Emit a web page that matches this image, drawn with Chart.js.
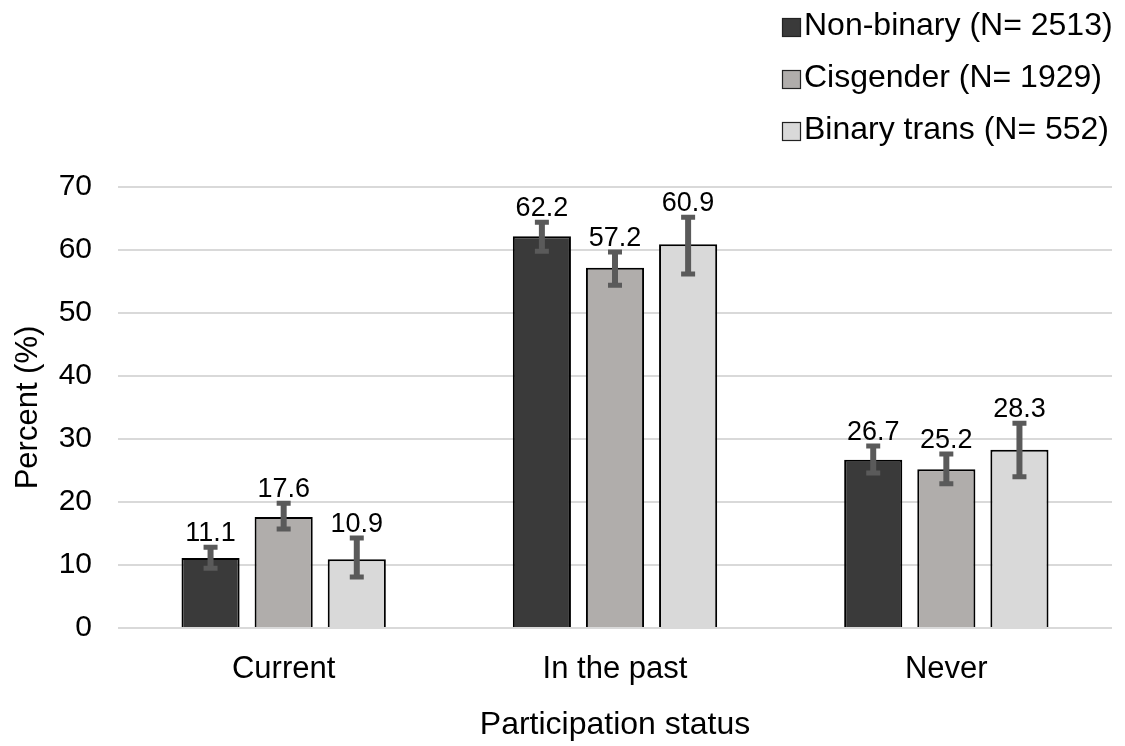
<!DOCTYPE html>
<html>
<head>
<meta charset="utf-8">
<script src="https://cdn.jsdelivr.net/npm/chart.js@4/dist/chart.umd.min.js"></script>
<style>
  body{margin:0;background:#fff;}
  #wrap{width:1125px;height:746px;}
</style>
</head>
<body>
<div id="wrap"><canvas id="myChart" width="1125" height="746"></canvas></div>
<script>
let categories=["Current","In the past","Never"];
let seriesNames=["Non-binary (N= 2513)","Cisgender (N= 1929)","Binary trans (N= 552)"];
let nonBinary=[11.1,62.2,26.7];
let cisgender=[17.6,57.2,25.2];
let binaryTrans=[10.9,60.9,28.3];
// error bar ends (low / high)
let nonBinaryLow=[9.5,59.8,24.6];
let nonBinaryHigh=[12.8,64.4,28.9];
let cisgenderLow=[15.7,54.4,22.9];
let cisgenderHigh=[19.8,59.7,27.6];
let binaryTransLow=[8.1,56.2,24.0];
let binaryTransHigh=[14.3,65.2,32.5];
let yTicks=[0,10,20,30,40,50,60,70];

let fillColors=["#3a3a3a","#b0adab","#d9d9d9"];
let errLows=[nonBinaryLow,cisgenderLow,binaryTransLow];
let errHighs=[nonBinaryHigh,cisgenderHigh,binaryTransHigh];
let FONT="'Liberation Sans', Arial, sans-serif";

// error bars + value labels
let errorBars={
    id:"errorBars",
    afterDatasetsDraw(chart){
        let ctx=chart.ctx;
        let y=chart.scales.y;
        chart.data.datasets.forEach((ds,i)=>{
            let meta=chart.getDatasetMeta(i);
            meta.data.forEach((bar,j)=>{
                let top=y.getPixelForValue(errHighs[i][j]);
                let bot=y.getPixelForValue(errLows[i][j]);
                ctx.save();
                ctx.strokeStyle="#5a5a5a";
                ctx.lineWidth=6;
                ctx.beginPath();
                ctx.moveTo(bar.x,top);ctx.lineTo(bar.x,bot);
                ctx.stroke();
                ctx.lineWidth=5;
                ctx.beginPath();
                ctx.moveTo(bar.x-7,top);ctx.lineTo(bar.x+7,top);
                ctx.moveTo(bar.x-7,bot);ctx.lineTo(bar.x+7,bot);
                ctx.stroke();
                ctx.fillStyle="#000";
                ctx.font="27px "+FONT;
                ctx.textAlign="center";
                ctx.textBaseline="alphabetic";
                ctx.fillText(ds.data[j].toFixed(1),bar.x,top-6);
                ctx.restore();
            })
        })
    }
};

// legend stacked in the top right corner
let sideLegend={
    id:"sideLegend",
    afterDraw(chart){
        let ctx=chart.ctx;
        ctx.save();
        ctx.font="32px "+FONT;
        ctx.textAlign="left";
        ctx.textBaseline="alphabetic";
        chart.data.datasets.forEach((ds,i)=>{
            let base=35+i*52;
            ctx.fillStyle=ds.backgroundColor;
            ctx.fillRect(782,base-17,19,19);
            ctx.strokeStyle="#222";
            ctx.lineWidth=1.2;
            ctx.strokeRect(782.5,base-16.5,18,18);
            ctx.fillStyle="#000";
            ctx.fillText(ds.label,804,base);
        })
        ctx.restore();
    }
};

let series=[nonBinary,cisgender,binaryTrans];
let datasets=series.map((vals,i)=>({
    label:seriesNames[i],
    data:vals,
    backgroundColor:fillColors[i],
    borderColor:"#000",
    borderWidth:2,
    categoryPercentage:0.662,
    barPercentage:0.795
}));

var ctx=document.getElementById('myChart').getContext('2d');
new Chart(ctx,{
    type:'bar',
    data:{labels:categories,datasets:datasets},
    plugins:[errorBars,sideLegend],
    options:{
        responsive:false,
        animation:false,
        layout:{padding:{top:187,right:13,bottom:0,left:2}},
        plugins:{legend:{display:false},tooltip:{enabled:false}},
        scales:{
            x:{
                afterFit(scale){scale.height=118},
                grid:{display:false,drawTicks:false},
                border:{display:false},
                ticks:{color:"#000",font:{family:FONT,size:31},padding:23},
                title:{display:true,text:"Participation status",color:"#000",
                    font:{family:FONT,size:32},padding:{top:10,bottom:2}}
            },
            y:{
                min:0,max:70,
                afterBuildTicks(scale){scale.ticks=yTicks.map(v=>({value:v}))},
                afterFit(scale){scale.width=116},
                grid:{color:"#d9d9d9",lineWidth:2,drawTicks:false},
                border:{display:false},
                ticks:{color:"#000",font:{family:FONT,size:30},padding:26},
                title:{display:true,text:"Percent (%)",color:"#000",
                    font:{family:FONT,size:31},padding:{top:8,bottom:6}}
            }
        }
    }
});
</script>
</body>
</html>
